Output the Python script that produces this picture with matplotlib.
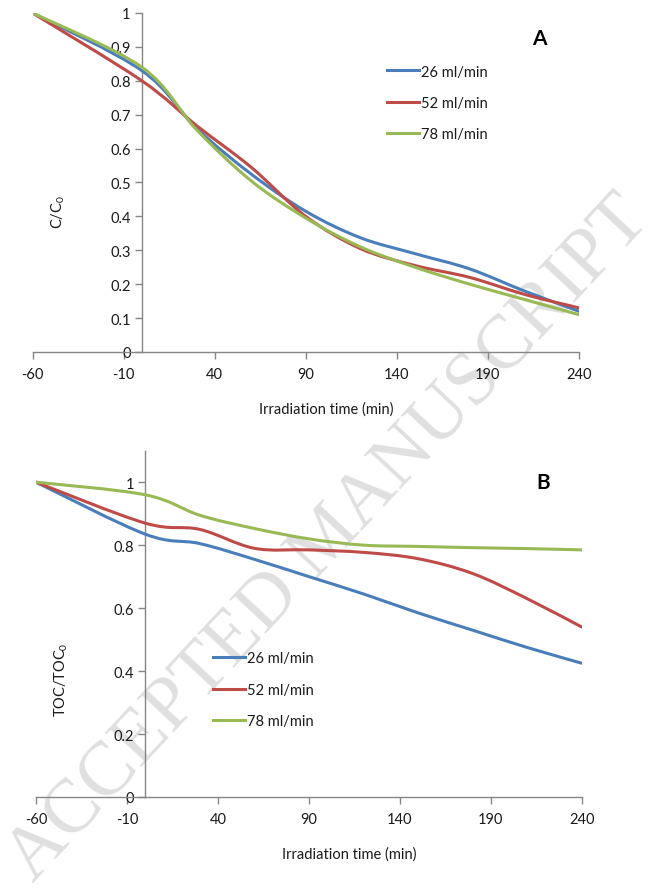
import matplotlib
matplotlib.use("Agg")
import matplotlib.pyplot as plt
from matplotlib.path import Path
from matplotlib.patches import PathPatch
from matplotlib.lines import Line2D

plt.rcParams['font.family'] = ['Lato', 'DejaVu Sans']

# irradiation time (min), sampling points
time = [-60, 0, 30, 60, 90, 120, 150, 180, 210, 240]

# panel A: C/C0
c_26 = [1.0, 0.83, 0.66, 0.525, 0.415, 0.337, 0.29, 0.245, 0.18, 0.12]
c_52 = [1.0, 0.80, 0.668, 0.545, 0.40, 0.305, 0.255, 0.22, 0.17, 0.13]
c_78 = [1.0, 0.84, 0.656, 0.505, 0.395, 0.31, 0.25, 0.20, 0.155, 0.11]

# panel B: TOC/TOC0
toc_26 = [1.0, 0.835, 0.805, 0.755, 0.70, 0.645, 0.585, 0.53, 0.475, 0.425]
toc_52 = [1.0, 0.87, 0.85, 0.79, 0.785, 0.777, 0.757, 0.71, 0.63, 0.54]
toc_78 = [1.0, 0.96, 0.895, 0.853, 0.82, 0.80, 0.796, 0.792, 0.789, 0.785]

labels = ["26 ml/min", "52 ml/min", "78 ml/min"]
colors = ["#4A7EBB", "#BE4B48", "#98B954"]

x_ticks = [-60, -10, 40, 90, 140, 190, 240]
ya_ticks = [0, 0.1, 0.2, 0.3, 0.4, 0.5, 0.6, 0.7, 0.8, 0.9, 1]
ya_labels = ["0", "0.1", "0.2", "0.3", "0.4", "0.5", "0.6", "0.7", "0.8", "0.9", "1"]
yb_ticks = [0, 0.2, 0.4, 0.6, 0.8, 1]
yb_labels = ["0", "0.2", "0.4", "0.6", "0.8", "1"]

AXIS = "#868686"
TXT = "#1a1a1a"
FS = 10.5


def smooth_line(ax, xs, ys, color):
    # Excel style smoothed line: cubic bezier through every point
    pts = list(zip(xs, ys))
    verts = [pts[0]]
    codes = [Path.MOVETO]
    n = len(pts)
    for i in range(n - 1):
        p0 = pts[max(i - 1, 0)]
        p1 = pts[i]
        p2 = pts[i + 1]
        p3 = pts[min(i + 2, n - 1)]
        c1 = (p1[0] + (p2[0] - p0[0]) / 6, p1[1] + (p2[1] - p0[1]) / 6)
        c2 = (p2[0] - (p3[0] - p1[0]) / 6, p2[1] - (p3[1] - p1[1]) / 6)
        verts += [c1, c2, p2]
        codes += [Path.CURVE4] * 3
    patch = PathPatch(Path(verts, codes), fill=False, edgecolor=color,
                      lw=2.2, capstyle='round', joinstyle='round', zorder=3)
    ax.add_patch(patch)


def style_axes(ax, ymax, yticks, ylabels):
    ax.set_xlim(-60, 240)
    ax.set_ylim(0, ymax)
    ax.patch.set_alpha(0)
    ax.spines['left'].set_position(('data', 0))
    ax.spines['top'].set_visible(False)
    ax.spines['right'].set_visible(False)
    for s in ('left', 'bottom'):
        ax.spines[s].set_color(AXIS)
        ax.spines[s].set_linewidth(1.0)
    ax.set_xticks(x_ticks)
    ax.set_xticklabels([str(t) for t in x_ticks])
    ax.set_yticks(yticks)
    ax.set_yticklabels(ylabels)
    ax.tick_params(axis='both', direction='out', length=5, width=1.0,
                   color=AXIS, labelcolor=TXT, labelsize=FS)
    ax.tick_params(axis='x', pad=6)
    ax.tick_params(axis='y', pad=3)


def add_legend(ax, fig, x_px, y_px):
    handles = [Line2D([], [], color=c, lw=2.2) for c in colors]
    ax.legend(handles, labels, loc='center left', frameon=False,
              bbox_to_anchor=(x_px / 650, 1 - y_px / 895),
              bbox_transform=fig.transFigure, borderpad=0, borderaxespad=0,
              handlelength=2.2, handletextpad=0.1, labelspacing=1.2,
              fontsize=FS, labelcolor=TXT)


fig = plt.figure(figsize=(6.5, 8.95), dpi=100)

# watermark
fig.text(0.505, 0.397, "ACCEPTED MANUSCRIPT", rotation=47, fontsize=55,
         family="Liberation Serif", color="#e0e0e0", ha='center',
         va='center', zorder=-5, rotation_mode='anchor')

ax1 = fig.add_axes([0.05, 0.6056, 0.8408, 0.3788])
for ys, c in zip([c_26, c_52, c_78], colors):
    smooth_line(ax1, time, ys, c)
style_axes(ax1, 1.0, ya_ticks, ya_labels)
add_legend(ax1, fig, 387, 104)
fig.text(539 / 650, 1 - 39 / 895, "A", fontsize=15, fontweight='bold',
         ha='center', va='center', color='black')
fig.text(326 / 650, 1 - 410 / 895, "Irradiation time (min)", fontsize=FS,
         ha='center', va='center', color=TXT)
fig.text(58 / 650, 1 - 212 / 895, r"$\mathregular{C/C_0}$", fontsize=FS,
         rotation=90, ha='center', va='center', color=TXT)

ax2 = fig.add_axes([0.0554, 0.1084, 0.8395, 0.3869])
for ys, c in zip([toc_26, toc_52, toc_78], colors):
    smooth_line(ax2, time, ys, c)
style_axes(ax2, 1.1, yb_ticks, yb_labels)
add_legend(ax2, fig, 213, 691)
fig.text(543 / 650, 1 - 483 / 895, "B", fontsize=15, fontweight='bold',
         ha='center', va='center', color='black')
fig.text(349 / 650, 1 - 855 / 895, "Irradiation time (min)", fontsize=FS,
         ha='center', va='center', color=TXT)
fig.text(61 / 650, 1 - 680 / 895, r"$\mathregular{TOC/TOC_0}$", fontsize=FS,
         rotation=90, ha='center', va='center', color=TXT)

fig.savefig("out.png", dpi=100)
